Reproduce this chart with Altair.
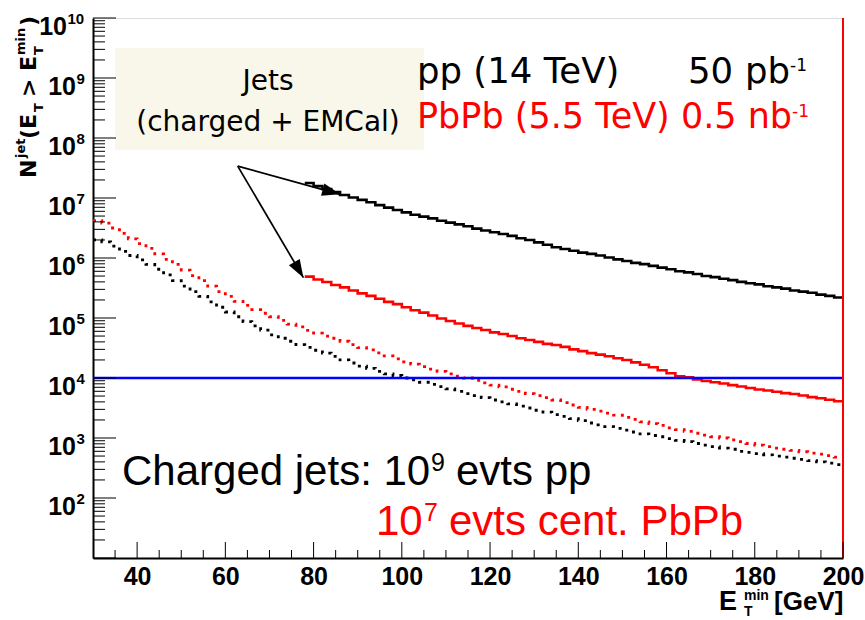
import math
import altair as alt
import pandas as pd

# ---------------- data ----------------
bin_width = 2  # GeV
solid_start = 78
dotted_start = 30

pp_hist = [1.78e7, 1.58e7, 1.41e7, 1.26e7, 1.12e7, 1.02e7, 9.3e6, 8.5e6, 7.6e6, 6.9e6,
           6.3e6, 5.75e6, 5.25e6, 4.9e6, 4.57e6, 4.17e6, 3.89e6, 3.63e6, 3.39e6, 3.09e6,
           2.88e6, 2.69e6, 2.51e6, 2.34e6, 2.14e6, 2.0e6, 1.82e6, 1.66e6, 1.51e6, 1.41e6,
           1.32e6, 1.23e6, 1.17e6, 1.10e6, 1.02e6, 9.5e5, 8.9e5, 8.3e5, 7.9e5, 7.4e5,
           6.9e5, 6.5e5, 6.0e5, 5.75e5, 5.4e5, 5.0e5, 4.8e5, 4.5e5, 4.27e5, 4.0e5,
           3.8e5, 3.63e5, 3.39e5, 3.24e5, 3.09e5, 2.88e5, 2.75e5, 2.63e5, 2.45e5, 2.34e5,
           2.19e5]

pbpb_hist = [4.9e5, 4.37e5, 3.98e5, 3.55e5, 3.24e5, 2.88e5, 2.57e5, 2.34e5, 2.09e5, 1.86e5,
             1.70e5, 1.51e5, 1.35e5, 1.23e5, 1.10e5, 9.8e4, 8.9e4, 8.1e4, 7.4e4, 6.8e4,
             6.3e4, 5.75e4, 5.4e4, 5.0e4, 4.6e4, 4.3e4, 4.0e4, 3.7e4, 3.55e4, 3.3e4,
             3.0e4, 2.8e4, 2.6e4, 2.45e4, 2.3e4, 2.14e4, 2.0e4, 1.82e4, 1.66e4, 1.51e4,
             1.35e4, 1.2e4, 1.07e4, 1.03e4, 9.5e3, 8.9e3, 8.5e3, 8.1e3, 7.6e3, 7.2e3,
             6.8e3, 6.45e3, 6.2e3, 5.9e3, 5.6e3, 5.4e3, 5.1e3, 4.8e3, 4.6e3, 4.35e3,
             4.1e3]

pbpb_charged = [4.2e6, 3.8e6, 3.16e6, 2.57e6, 2.09e6, 1.74e6, 1.45e6, 1.17e6, 9.5e5, 7.8e5,
                6.3e5, 5.1e5, 4.2e5, 3.4e5, 2.75e5, 2.3e5, 1.9e5, 1.62e5, 1.38e5, 1.2e5,
                1.05e5, 9.1e4, 7.9e4, 7.1e4, 6.2e4, 5.6e4, 5.0e4, 4.6e4, 4.1e4, 3.6e4,
                3.2e4, 2.95e4, 2.63e4, 2.34e4, 2.09e4, 1.86e4, 1.7e4, 1.55e4, 1.41e4, 1.29e4,
                1.17e4, 1.07e4, 1.0e4, 9.1e3, 8.3e3, 7.6e3, 7.1e3, 6.5e3, 6.0e3, 5.5e3,
                5.1e3, 4.7e3, 4.3e3, 3.9e3, 3.55e3, 3.24e3, 3.0e3, 2.8e3, 2.6e3, 2.4e3,
                2.2e3, 2.04e3, 1.86e3, 1.74e3, 1.62e3, 1.48e3, 1.38e3, 1.29e3, 1.2e3, 1.12e3,
                1.05e3, 1.0e3, 930, 870, 810, 760, 720, 680, 650, 620,
                590, 560, 540, 510, 480]

pp_charged = [2.0e6, 1.86e6, 1.58e6, 1.29e6, 1.1e6, 9.3e5, 7.8e5, 6.5e5, 5.25e5, 4.2e5,
              3.4e5, 2.75e5, 2.3e5, 1.86e5, 1.51e5, 1.26e5, 1.05e5, 8.7e4, 7.4e4, 6.3e4,
              5.25e4, 4.6e4, 4.1e4, 3.6e4, 3.24e4, 2.9e4, 2.6e4, 2.3e4, 2.0e4, 1.78e4,
              1.58e4, 1.45e4, 1.29e4, 1.17e4, 1.1e4, 1.0e4, 9.3e3, 8.5e3, 7.8e3, 7.2e3,
              6.6e3, 6.0e3, 5.5e3, 5.1e3, 4.7e3, 4.3e3, 4.0e3, 3.7e3, 3.4e3, 3.16e3,
              2.9e3, 2.7e3, 2.45e3, 2.3e3, 2.1e3, 1.95e3, 1.78e3, 1.66e3, 1.55e3, 1.45e3,
              1.35e3, 1.26e3, 1.17e3, 1.1e3, 1.05e3, 980, 910, 870, 810, 760,
              720, 680, 650, 600, 575, 550, 525, 500, 480, 460,
              440, 420, 400, 380, 360]

threshold = [1e4]
x_end = [200]

box_x = [35, 105]
box_y = [6.3e7, 3.16e9]

arrow_x0 = [62.8, 62.8]
arrow_y0 = [3.4e7, 3.4e7]
arrow_x1 = [86.0, 77.7]
arrow_y1 = [1.15e7, 4.7e5]

x_major = [40, 60, 80, 100, 120, 140, 160, 180, 200]
x_minor = [v for v in range(35, 200, 5) if v not in x_major]
y_exps = [2, 3, 4, 5, 6, 7, 8, 9, 10]
y_major = [10.0 ** e for e in range(1, 11)]
y_minor = [k * 10.0 ** n for n in range(1, 10) for k in range(2, 10)]

# ---------------- layout ----------------
W, H = 750, 540
PAD_L, PAD_T = 93, 18
X_DOM = [30, 200]
Y_DOM = [10, 1e10]

xs = alt.Scale(domain=X_DOM, nice=False, zero=False)
ys = alt.Scale(type="log", domain=Y_DOM, nice=False)
xaxis = alt.Axis(values=x_major, ticks=False, grid=False, title=None,
                 labelFont="Liberation Sans", labelFontWeight="bold", labelFontSize=25,
                 labelColor="black", labelPadding=6, labelFlush=False, labelOverlap=False,
                 domainColor="black", domainWidth=2)
yaxis = alt.Axis(labels=False, ticks=False, grid=False, title=None,
                 domainColor="black", domainWidth=2)


def X(f):
    return alt.X(f, type="quantitative", scale=xs, axis=xaxis)


def Y(f):
    return alt.Y(f, type="quantitative", scale=ys, axis=yaxis)


def hist_df(start, values):
    edges = [start + bin_width * i for i in range(len(values) + 1)]
    return pd.DataFrame({"x": edges, "y": list(values) + [values[-1]]})


one = pd.DataFrame({"a": [0]})


def label(text, px, py, size, color="black", font="DejaVu Sans", weight="normal",
          angle=0, align="left"):
    kw = dict(text=text, font=font, fontSize=size, fontWeight=weight, color=color,
              align=align, baseline="alphabetic")
    if angle:
        kw["angle"] = angle
    return alt.Chart(one).mark_text(**kw).encode(
        x=alt.value(px - PAD_L), y=alt.value(py - PAD_T))


layers = []

# annotation box
box_df = pd.DataFrame({"x0": [box_x[0]], "x1": [box_x[1]], "y0": [box_y[0]], "y1": [box_y[1]]})
layers.append(alt.Chart(box_df).mark_rect(color="#f9f7ea").encode(
    x=X("x0"), x2=alt.X2("x1"), y=Y("y0"), y2=alt.Y2("y1")))

# curves
DOTS = [3, 5.5]
layers.append(alt.Chart(hist_df(dotted_start, pp_charged)).mark_line(
    interpolate="step-after", color="black", strokeWidth=2.8, strokeDash=DOTS).encode(
    x=X("x"), y=Y("y")))
layers.append(alt.Chart(hist_df(dotted_start, pbpb_charged)).mark_line(
    interpolate="step-after", color="#ff0000", strokeWidth=2.8, strokeDash=DOTS).encode(
    x=X("x"), y=Y("y")))
layers.append(alt.Chart(hist_df(solid_start, pp_hist)).mark_line(
    interpolate="step-after", color="black", strokeWidth=2.6).encode(x=X("x"), y=Y("y")))
layers.append(alt.Chart(hist_df(solid_start, pbpb_hist)).mark_line(
    interpolate="step-after", color="#ff0000", strokeWidth=2.6).encode(x=X("x"), y=Y("y")))

# blue threshold line
layers.append(alt.Chart(pd.DataFrame({"v": threshold})).mark_rule(
    color="#0000ff", strokeWidth=2.5).encode(y=Y("v")))

# red right edge
layers.append(alt.Chart(pd.DataFrame({"v": x_end})).mark_rule(
    color="#ff0000", strokeWidth=2).encode(x=X("v")))

# arrows
arr = pd.DataFrame({"x0": arrow_x0, "y0": arrow_y0, "x1": arrow_x1, "y1": arrow_y1})
px_per_x = W / (X_DOM[1] - X_DOM[0])
px_per_dec = H / (math.log10(Y_DOM[1]) - math.log10(Y_DOM[0]))
arr["angle"] = [90 + math.degrees(math.atan2((math.log10(a) - math.log10(b)) * px_per_dec,
                                              (c - d) * px_per_x))
                for a, b, c, d in zip(arr.y0, arr.y1, arr.x1, arr.x0)]
layers.append(alt.Chart(arr).mark_rule(color="black", strokeWidth=1.7).encode(
    x=X("x0"), x2=alt.X2("x1"), y=Y("y0"), y2=alt.Y2("y1")))
layers.append(alt.Chart(arr).mark_point(
    shape="M0,0L0.7,2L-0.7,2Z", filled=True, color="black", opacity=1, size=324,
    strokeWidth=0).encode(
    x=X("x1"), y=Y("y1"), angle=alt.Angle("angle:Q", scale=None)))

# inward ticks
layers.append(alt.Chart(pd.DataFrame({"v": y_major})).mark_rule(
    color="black", strokeWidth=1).encode(y=Y("v"), x=alt.value(0), x2=alt.value(23)))
layers.append(alt.Chart(pd.DataFrame({"v": y_minor})).mark_rule(
    color="black", strokeWidth=1).encode(y=Y("v"), x=alt.value(0), x2=alt.value(12)))
layers.append(alt.Chart(pd.DataFrame({"v": x_major})).mark_rule(
    color="black", strokeWidth=1).encode(x=X("v"), y=alt.value(H), y2=alt.value(H - 16)))
layers.append(alt.Chart(pd.DataFrame({"v": x_minor})).mark_rule(
    color="black", strokeWidth=1).encode(x=X("v"), y=alt.value(H), y2=alt.value(H - 8)))

# y tick labels 10^n
ylab = pd.DataFrame({"e": y_exps, "v": [10.0 ** e for e in y_exps],
                     "sup": [str(e) for e in y_exps]})
for cond, base_x, sup_x in [("datum.e < 10", -17, -16.5), ("datum.e >= 10", -26, -25.5)]:
    layers.append(alt.Chart(ylab).transform_filter(cond).mark_text(
        text="10", font="Liberation Sans", fontWeight="bold", fontSize=25, align="right",
        baseline="alphabetic", dy=17, color="black").encode(y=Y("v"), x=alt.value(base_x)))
    layers.append(alt.Chart(ylab).transform_filter(cond).mark_text(
        font="Liberation Sans", fontWeight="bold", fontSize=15, align="left",
        baseline="alphabetic", dy=6, color="black").encode(
        y=Y("v"), x=alt.value(sup_x), text="sup:N"))

# axis titles
B = "bold"
LS = "Liberation Sans"
layers += [
    label("E", 719, 610, 27, font=LS, weight=B),
    label("min", 744, 600, 14, font=LS, weight=B),
    label("T", 744, 616, 14, font=LS, weight=B),
    label("[GeV]", 774, 610, 26, font=LS, weight=B),
]
yt = [("N", 35.5, 178, 22), ("jet", 25, 158, 13), ("(E", 35.5, 139, 22),
      ("T", 42.5, 112, 13), (">", 35.5, 97, 22), ("E", 35.5, 71, 22),
      ("T", 42.5, 55, 13), ("min", 25, 55, 13), (")", 35.5, 26, 22)]
for t, px, py, s in yt:
    layers.append(label(t, px, py, s, font="DejaVu Sans", weight=B, angle=270))

# legend-like texts
RED = "#ff0000"
layers += [
    label("pp (14 TeV)", 417, 83, 35.5),
    label("50", 688, 83, 35.5),
    label("pb", 745, 83, 35.5),
    label("-1", 790, 71, 17),
    label("PbPb (5.5 TeV) 0.5 nb", 417, 128, 35, color=RED),
    label("-1", 792, 117, 17, color=RED),
    label("Jets", 268, 90, 28, align="center"),
    label("(charged + EMCal)", 268, 131, 28, align="center"),
]
layers += [
    label("Charged jets: 10", 122, 485, 42, font=LS),
    label("9", 431, 471, 25, font=LS),
    label("evts pp", 456, 485, 42, font=LS),
    label("10", 376, 535, 42, color=RED, font=LS),
    label("7", 424, 521, 25, color=RED, font=LS),
    label("evts cent. PbPb", 449, 535, 42, color=RED, font=LS),
]

chart = alt.layer(*layers).properties(
    width=W, height=H,
    autosize=alt.AutoSizeParams(type="none"),
    padding={"left": PAD_L, "top": PAD_T, "right": 865 - PAD_L - W, "bottom": 620 - PAD_T - H},
).configure_view(stroke="black", strokeWidth=1).configure(background="white")

chart.save("out.html", embed_options={"renderer": "svg", "actions": False})
